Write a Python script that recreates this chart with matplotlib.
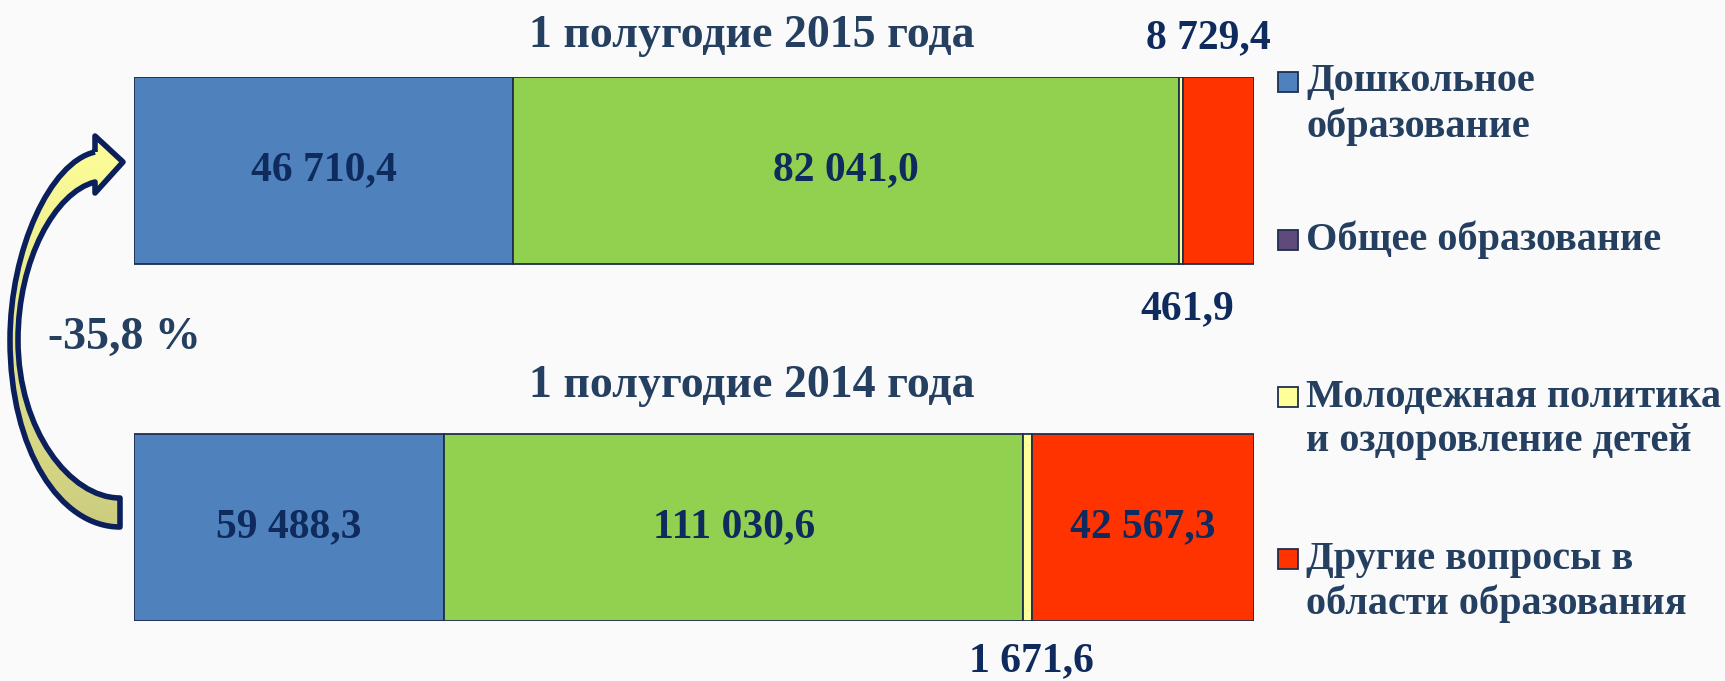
import numpy as np
import matplotlib
matplotlib.use("Agg")
import matplotlib.pyplot as plt
from matplotlib.path import Path
from matplotlib.patches import PathPatch, Rectangle

# data
periods = ["1 полугодие 2014 года", "1 полугодие 2015 года"]
categories = [["Дошкольное", "образование"], ["Общее образование"],
              ["Молодежная политика", "и оздоровление детей"],
              ["Другие вопросы в", "области образования"]]
values_2014 = [59488.3, 111030.6, 1671.6, 42567.3]
values_2015 = [46710.4, 82041.0, 461.9, 8729.4]
change_label = "-35,8 %"

bar_colors = ["#4F81BD", "#92D050", "#FFFF99", "#FF3300"]
legend_colors = ["#4F81BD", "#604A7B", "#FFFF99", "#FF3300"]
val_color = "#0F2A5C"
txt_color = "#243F60"
bg = "#FAFAFA"

plt.rcParams['font.family'] = ['Liberation Serif', 'DejaVu Serif']
plt.rcParams['font.weight'] = 'bold'

W, H = 1725, 681
fig = plt.figure(figsize=(W / 100, H / 100), dpi=100, facecolor=bg)

def fmt(v):
    s = "{:,.1f}".format(v).replace(",", " ").replace(".", ",")
    return s

# main bars axes (100% stacked)
ax = fig.add_axes([134 / W, (H - 621) / H, 1120 / W, 544 / H])
ax.set_facecolor("none")
bh = 0.524
ax.set_ylim(-bh / 2, 1 + bh / 2)
ax.set_xlim(0, 100)
ax.axis("off")

vfs = 30
rows = [values_2014, values_2015]
outside = {(1, 2), (1, 3), (0, 2)}
for yi, vals in enumerate(rows):
    tot = sum(vals)
    left = 0.0
    for ci, v in enumerate(vals):
        w = v / tot * 100
        ax.barh(yi, w, left=left, height=bh, color=bar_colors[ci],
                edgecolor="#1F2F4F", linewidth=1.3)
        if (yi, ci) not in outside:
            ax.text(left + w / 2, yi, fmt(v), ha="center", va="center",
                    fontsize=vfs, color=val_color)
        left += w

# small values outside the bars
t15 = sum(values_2015)
t14 = sum(values_2014)
x_y15 = (values_2015[0] + values_2015[1] + values_2015[2] / 2) / t15 * 100
x_r15 = (t15 - values_2015[3] / 2) / t15 * 100
x_y14 = (values_2014[0] + values_2014[1] + values_2014[2] / 2) / t14 * 100
ax.annotate(fmt(values_2015[3]), (x_r15, 1 + bh / 2), xytext=(-10, 39),
            textcoords="offset pixels", ha="center", va="center",
            fontsize=vfs, color=val_color, annotation_clip=False)
ax.annotate(fmt(values_2015[2]), (x_y15, 1 - bh / 2), xytext=(6, -45),
            textcoords="offset pixels", ha="center", va="center",
            fontsize=vfs, color=val_color, annotation_clip=False)
ax.annotate(fmt(values_2014[2]), (x_y14, -bh / 2), xytext=(4, -40),
            textcoords="offset pixels", ha="center", va="center",
            fontsize=vfs, color=val_color, annotation_clip=False)

# overlay in pixel coordinates for titles, arrow and legend
ov = fig.add_axes([0, 0, 1, 1], zorder=5)
ov.axis("off")
ov.patch.set_alpha(0)

ov.text(752, 36, periods[1], ha="center", va="center", fontsize=33, color=txt_color)
ov.text(752, 386, periods[0], ha="center", va="center", fontsize=33, color=txt_color)
ov.text(124, 338, change_label, ha="center", va="center", fontsize=33, color=txt_color)

# curved arrow
verts = [(95, 152), (95, 136), (123, 162), (95, 193), (95, 182),
         (55, 192), (18, 260), (18, 340),
         (18, 430), (70, 498), (120, 498),
         (120, 527),
         (60, 527), (10, 450), (10, 340),
         (10, 250), (50, 162), (95, 152)]
codes = [Path.MOVETO, Path.LINETO, Path.LINETO, Path.LINETO, Path.LINETO,
         Path.CURVE4, Path.CURVE4, Path.CURVE4,
         Path.CURVE4, Path.CURVE4, Path.CURVE4,
         Path.LINETO,
         Path.CURVE4, Path.CURVE4, Path.CURVE4,
         Path.CURVE4, Path.CURVE4, Path.CURVE4]
grad = np.linspace(0, 1, 256).reshape(-1, 1)
c1 = np.array([1.0, 1.0, 0.6])
c2 = np.array([0.80, 0.80, 0.50])
img = c1 + (c2 - c1) * grad[:, :, None]
im = ov.imshow(img.repeat(2, axis=1), extent=(5, 130, 530, 130), aspect="auto",
               zorder=2, interpolation="bilinear")
clip = PathPatch(Path(verts, codes), transform=ov.transData, facecolor="none",
                 edgecolor="none")
ov.add_patch(clip)
im.set_clip_path(clip)
ov.add_patch(PathPatch(Path(verts, codes), facecolor="none", edgecolor="#0B1F5C",
                       linewidth=4, joinstyle="round", zorder=3))

# legend
leg_y = [82, 240, 397, 559]
for yy, lines, col in zip(leg_y, categories, legend_colors):
    ov.add_patch(Rectangle((1278, yy - 10), 20, 20, facecolor=col,
                           edgecolor="#1F2F4F", linewidth=1.3))
    for k, line in enumerate(lines):
        ov.text(1306, yy + 45 * k, line, ha="left", va="center", fontsize=29,
                color=txt_color)

ov.set_xlim(0, W)
ov.set_ylim(H, 0)

fig.savefig("out.png", dpi=100, facecolor=bg)
